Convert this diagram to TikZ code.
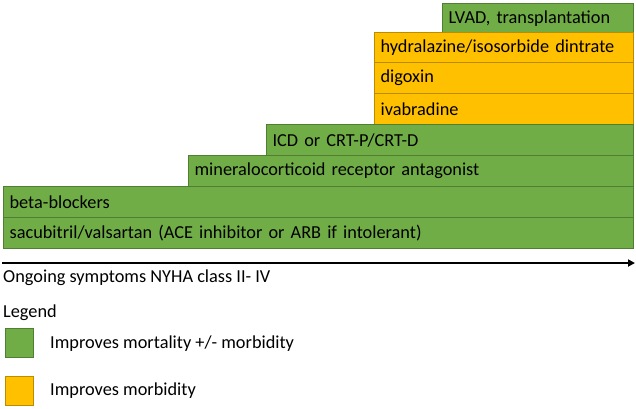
\documentclass[tikz,border=0pt]{standalone}
\usepackage{fontspec}
\setmainfont{Carlito}
\usetikzlibrary{arrows.meta}
\definecolor{mgreen}{HTML}{70AD47}
\definecolor{mgreenline}{HTML}{507E32}
\definecolor{morange}{HTML}{FFC000}
\definecolor{morangeline}{HTML}{BC8C00}
\begin{document}
\begin{tikzpicture}[x=1pt,y=1pt,
  tbox/.style={draw, line width=1.2pt, anchor=north west, minimum height=31pt,
    inner xsep=6pt, inner ysep=0pt, align=left, font=\fontsize{18.3}{21}\selectfont},
  gbox/.style={tbox, fill=mgreen, draw=mgreenline},
  obox/.style={tbox, fill=morange, draw=morangeline},
  plain/.style={anchor=west, inner sep=0pt, font=\fontsize{18.3}{21}\selectfont},
  swatch/.style={draw, line width=1.2pt, minimum width=28pt, minimum height=29pt, anchor=north west, inner sep=0pt}]
\useasboundingbox (0,0) rectangle (636,-408);
\node[gbox, text width=179pt] (lvad) at (442,-3) {LVAD, transplantation};
\node[obox, text width=247pt] (hyd) at (374,-32) {hydralazine/isosorbide dintrate};
\node[obox, text width=247pt] (dig) at (374,-62) {digoxin};
\node[obox, text width=247pt] (iva) at (374,-93) {ivabradine};
\node[gbox, text width=355pt] (icd) at (266,-124) {ICD or CRT-P/CRT-D};
\node[gbox, text width=433pt] (mra) at (188,-155) {mineralocorticoid receptor antagonist};
\node[gbox, text width=618pt] (beta) at (3,-186) {beta-blockers};
\node[gbox, text width=618pt] (sacu) at (3,-217) {sacubitril/valsartan (ACE inhibitor or ARB if intolerant)};
\coordinate (astart) at (2,-263);
\coordinate (aend) at (635,-263);
\draw[line width=2.4pt, -{Triangle[length=7pt,width=7pt]}] (astart) -- (aend);
\node[plain] (ongoing) at (3,-278) {Ongoing symptoms NYHA class II- IV};
\node[plain] (legend) at (3,-313) {Legend};
\node[swatch, fill=mgreen, draw=mgreenline] (sg) at (5,-328) {};
\node[plain] (lg) at (50,-344) {Improves mortality +/- morbidity};
\node[swatch, fill=morange, draw=morangeline] (so) at (5,-376) {};
\node[plain] (lo) at (50,-391) {Improves morbidity};
\end{tikzpicture}
\end{document}
